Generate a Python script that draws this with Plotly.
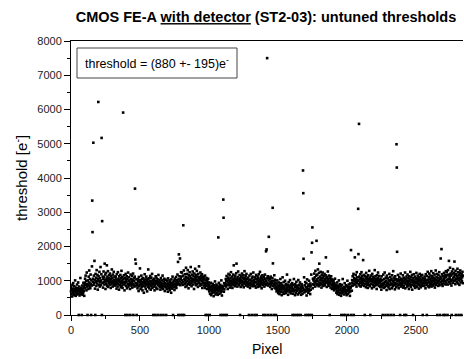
import plotly.graph_objects as go

# Threshold values (e-), one array per 160-pixel column,
# sampled every second pixel. 0 = dead / untunable pixel.
col00 = [690, 820, 610, 760, 540, 880, 700, 650, 930, 720,
         580, 770, 840, 620, 690, 1010, 740, 560, 680, 800,
         730, 600, 890, 660, 780, 710, 950, 620, 0, 750,
         830, 570, 700, 660, 1080, 740, 610, 790, 680, 0,
         720, 860, 590, 770, 650, 940, 700, 810, 560, 880,
         940, 1060, 780, 1150, 870, 990, 720, 1240, 900, 830,
         0, 1010, 880, 760, 1120, 950, 1300, 840, 920, 1050,
         780, 1180, 900, 0, 1010, 860, 1420, 3340, 2420, 970]
col01 = [1060, 5030, 880, 1150, 940, 1580, 1020, 770, 0, 1200,
         960, 1090, 850, 1310, 1000, 920, 1170, 740, 1050, 6220,
         1130, 880, 990, 1260, 830, 1080, 950, 1400, 1010, 870,
         1190, 5170, 0, 2740, 940, 1120, 800, 1050, 1270, 960,
         1100, 890, 1500, 1020, 1180, 760, 980, 1230, 910, 1060,
         1450, 850, 1120, 990, 1280, 820, 1040, 930, 1160, 1070,
         880, 1210, 960, 1010, 790, 1140, 1050, 900, 1330, 970,
         1090, 830, 1180, 1000, 940, 1260, 870, 1030, 1120, 920]
col02 = [980, 860, 1120, 910, 1040, 770, 1190, 950, 1010, 830,
         1250, 900, 1060, 980, 740, 1130, 1020, 880, 960, 1170,
         810, 1070, 930, 1290, 860, 1000, 1110, 790, 940, 5910,
         1050, 890, 1160, 970, 720, 1080, 920, 0, 1200, 850,
         1020, 960, 1130, 780, 1060, 0, 900, 1240, 830, 990,
         1100, 870, 1010, 940, 760, 0, 1180, 920, 1050, 860,
         970, 1140, 800, 1030, 910, 1210, 0, 880, 990, 1070,
         830, 1120, 3690, 1620, 940, 1500, 860, 1040, 0, 910]
col03 = [920, 780, 1050, 860, 990, 700, 1110, 840, 950, 1020,
         1360, 880, 760, 1000, 930, 1150, 810, 890, 1060, 720,
         970, 850, 1080, 940, 650, 1010, 900, 1190, 830, 960,
         1040, 760, 910, 1120, 870, 990, 690, 1050, 930, 820,
         1330, 960, 880, 1070, 780, 1000, 910, 1140, 850, 740,
         980, 1090, 860, 930, 1200, 790, 1020, 900, 0, 960,
         830, 1060, 910, 720, 1000, 870, 0, 1130, 940, 800,
         1080, 920, 990, 760, 1040, 0, 880, 1170, 950, 860]
col04 = [900, 1020, 820, 960, 740, 0, 1080, 870, 930, 790,
         1010, 850, 1150, 900, 760, 0, 980, 830, 1060, 910,
         700, 940, 870, 1030, 810, 0, 890, 760, 1000, 850,
         920, 680, 1070, 830, 940, 780, 880, 1010, 720, 860,
         970, 800, 900, 650, 1040, 840, 930, 770, 1120, 880,
         0, 950, 810, 1000, 870, 730, 1060, 900, 820, 980,
         860, 1110, 790, 940, 1020, 880, 1180, 960, 1550, 0,
         1040, 1770, 900, 1130, 980, 1650, 870, 0, 1060, 1250]
col05 = [1120, 930, 1240, 1010, 0, 880, 1150, 2620, 970, 1300,
         0, 1060, 900, 1190, 1020, 820, 1110, 1380, 950, 1070,
         860, 1200, 1000, 1310, 910, 1090, 780, 1160, 1040, 950,
         1250, 880, 1130, 1000, 1400, 920, 1080, 840, 1180, 1010,
         960, 1270, 1050, 890, 1140, 1020, 760, 1210, 980, 1100,
         1350, 930, 1060, 870, 1170, 1000, 1290, 900, 1120, 1030,
         820, 1200, 970, 1080, 1420, 940, 1110, 860, 1020, 1240,
         910, 1070, 1150, 880, 1000, 1190, 790, 1060, 940, 1110]
col06 = [980, 1120, 860, 1040, 930, 790, 1150, 900, 0, 1010,
         850, 1080, 940, 760, 1000, 0, 890, 1060, 820, 950,
         760, 690, 880, 0, 620, 810, 730, 940, 580, 790,
         700, 850, 640, 760, 910, 680, 820, 550, 740, 870,
         660, 790, 980, 710, 600, 830, 750, 890, 640, 770,
         720, 860, 590, 800, 2265, 690, 940, 760, 620, 820,
         740, 880, 0, 660, 790, 1010, 700, 570, 850, 760,
         0, 820, 3370, 2840, 680, 930, 750, 860, 0, 900]
col07 = [920, 1050, 830, 990, 1140, 0, 880, 1010, 760, 1090,
         950, 1200, 870, 1030, 910, 1160, 800, 980, 1070, 940,
         1250, 860, 1000, 920, 1120, 790, 1040, 960, 1180, 880,
         1450, 1010, 930, 1090, 840, 1150, 970, 1030, 900, 1220,
         1500, 950, 1060, 830, 1110, 990, 1270, 910, 1040, 870,
         1000, 1170, 940, 0, 1080, 820, 1020, 1130, 960, 890,
         1210, 1000, 870, 1090, 950, 1160, 810, 1050, 930, 1280,
         980, 1070, 900, 1140, 1020, 860, 1200, 950, 1060, 910]
col08 = [960, 830, 1090, 900, 1010, 0, 870, 1150, 940, 790,
         1030, 920, 1200, 860, 980, 0, 1070, 910, 1120, 840,
         990, 1240, 880, 1020, 930, 0, 1100, 850, 970, 1060,
         800, 1170, 950, 0, 1040, 890, 1130, 1000, 820, 1080,
         930, 1190, 870, 1010, 960, 1260, 840, 1050, 910, 1120,
         990, 780, 1080, 940, 1160, 870, 1020, 0, 900, 1110,
         960, 830, 1050, 1180, 920, 0, 1000, 1860, 880, 1915,
         1070, 7500, 940, 1130, 860, 0, 1010, 2283, 900, 1090]
col09 = [910, 1050, 820, 960, 1120, 0, 870, 1000, 760, 940,
         1080, 3130, 1507, 850, 990, 0, 910, 1160, 800, 1030,
         880, 950, 770, 0, 830, 690, 920, 780, 1010, 720,
         860, 640, 790, 950, 700, 840, 610, 890, 760, 1050,
         680, 810, 930, 740, 580, 870, 790, 1100, 660, 820,
         750, 960, 620, 850, 780, 700, 1000, 730, 860, 640,
         910, 770, 690, 1180, 800, 720, 880, 590, 830, 960,
         740, 850, 670, 790, 1020, 710, 860, 630, 780, 900]
col10 = [820, 700, 930, 0, 760, 620, 880, 740, 1050, 690,
         0, 810, 580, 900, 730, 840, 650, 970, 0, 780,
         710, 860, 600, 800, 1020, 0, 750, 640, 880, 720,
         950, 680, 820, 0, 590, 770, 900, 700, 840, 620,
         790, 4220, 3557, 1641, 740, 1100, 660, 870, 730, 960,
         0, 810, 690, 930, 570, 780, 1040, 720, 0, 850,
         650, 890, 760, 1000, 700, 0, 830, 610, 920, 740,
         860, 1180, 1828, 0, 2108, 2557, 780, 1060, 900, 1010]
col11 = [1050, 880, 1210, 960, 1100, 830, 1290, 1000, 920, 1150,
         2166, 1040, 870, 1180, 990, 1330, 910, 1070, 840, 1230,
         1500, 950, 1120, 880, 1020, 1260, 930, 1090, 800, 1170,
         1010, 890, 1240, 960, 1080, 850, 1140, 1000, 920, 1200,
         870, 1050, 990, 1160, 1682, 940, 1090, 820, 1110, 970,
         1030, 1270, 900, 1060, 850, 1150, 980, 920, 0, 1080,
         940, 800, 1020, 1130, 870, 990, 760, 1040, 900, 850,
         960, 780, 1010, 880, 720, 930, 820, 1060, 790, 870]
col12 = [760, 880, 650, 820, 700, 950, 610, 790, 860, 680,
         740, 1010, 590, 830, 720, 900, 640, 770, 850, 560,
         0, 710, 880, 630, 790, 1050, 680, 740, 0, 820,
         600, 760, 930, 690, 800, 0, 650, 870, 720, 580,
         840, 700, 1000, 620, 780, 0, 730, 890, 660, 810,
         750, 560, 920, 690, 800, 1895, 0, 850, 710, 1020,
         940, 1130, 860, 1010, 1200, 0, 900, 1080, 980, 1682,
         1050, 890, 1170, 960, 1040, 830, 1250, 930, 1100, 1010]
col13 = [1000, 3100, 1778, 900, 5580, 1120, 860, 1040, 970, 1190,
         830, 1080, 940, 1250, 1010, 880, 1130, 960, 1060, 1603,
         920, 1170, 850, 1020, 990, 0, 1140, 900, 1070, 810,
         1230, 950, 1040, 880, 1110, 1000, 790, 1160, 930, 1050,
         870, 1290, 980, 1090, 840, 0, 1020, 1150, 910, 1000,
         1060, 780, 1200, 950, 1030, 870, 1120, 990, 820, 1080,
         940, 1310, 1010, 860, 1130, 970, 900, 1050, 760, 1160,
         1000, 890, 1070, 1240, 930, 1010, 850, 1140, 960, 1030]
col14 = [950, 820, 1060, 880, 990, 740, 1130, 910, 830, 1020,
         0, 870, 1180, 940, 790, 1050, 900, 1240, 820, 970,
         0, 1090, 860, 1000, 730, 1150, 920, 850, 1070, 940,
         0, 810, 1010, 890, 1200, 760, 980, 1110, 870, 1030,
         0, 920, 1060, 780, 1160, 900, 1000, 840, 1280, 950,
         0, 1090, 870, 1020, 750, 1130, 940, 890, 1050, 810,
         4985, 4305, 1845, 1000, 920, 1170, 860, 1040, 780, 990,
         1110, 880, 1020, 0, 940, 1210, 830, 1060, 910, 1000]
col15 = [870, 1030, 940, 1160, 800, 980, 1090, 850, 0, 1010,
         920, 1240, 780, 1050, 960, 0, 1120, 890, 1000, 830,
         1180, 940, 860, 1070, 990, 760, 1130, 910, 1040, 870,
         1260, 950, 820, 1100, 1010, 880, 1170, 740, 1030, 960,
         0, 1080, 900, 1190, 840, 1000, 930, 1120, 790, 1050,
         970, 860, 1230, 940, 1070, 820, 1010, 1150, 890, 980,
         1040, 770, 1100, 920, 1200, 860, 990, 1060, 810, 1130,
         950, 1020, 880, 1170, 930, 0, 1080, 850, 1010, 940]
col16 = [990, 860, 1120, 930, 1050, 780, 1190, 950, 1010, 880,
         0, 1140, 920, 1260, 840, 1030, 970, 1100, 810, 1210,
         940, 1060, 870, 1150, 1000, 900, 1280, 830, 1070, 960,
         1130, 890, 1010, 1220, 860, 990, 1090, 920, 1180, 800,
         1040, 950, 1300, 880, 1020, 1110, 940, 1200, 0, 980,
         1070, 850, 1160, 1000, 920, 1250, 870, 1040, 0, 1120,
         1650, 960, 1080, 1924, 900, 1190, 1010, 850, 1140, 980,
         0, 1060, 1230, 920, 1100, 1000, 0, 1170, 890, 1280]
col17 = [1100, 950, 1250, 1020, 1160, 0, 890, 1310, 1040, 1180,
         1580, 970, 1120, 1060, 1380, 920, 1210, 1000, 1150, 860,
         0, 1270, 1030, 1190, 940, 1340, 1080, 990, 1230, 1110,
         1560, 1010, 1170, 900, 1290, 0, 1060, 1200, 970, 1130,
         1040, 1350, 920, 1090, 1250, 0, 1010, 1160, 880, 1220,
         1070, 1300, 950, 1130, 1040, 0, 1190, 990, 1100, 1260,
         930, 1150, 1020, 1240, 980, 1110, 1300, 1050, 1170, 900,
         1080, 1210, 1000, 1140, 1360, 960, 1090, 1230, 1040, 1170]

columns = [col00, col01, col02, col03, col04, col05, col06, col07, col08,
           col09, col10, col11, col12, col13, col14, col15, col16, col17]
PIXELS_PER_COLUMN = 160
SAMPLE_STEP = 2

x_tick_vals = [0, 500, 1000, 1500, 2000, 2500]
y_tick_vals = [0, 1000, 2000, 3000, 4000, 5000, 6000, 7000, 8000]

pixel = []
threshold = []
for ci, col in enumerate(columns):
    for k, v in enumerate(col):
        pixel.append(ci * PIXELS_PER_COLUMN + k * SAMPLE_STEP)
        threshold.append(v)

FONT = "Liberation Sans, Arial, sans-serif"

fig = go.Figure()
fig.add_trace(go.Scatter(
    x=pixel, y=threshold, mode="markers",
    marker=dict(symbol="square", size=2.6, color="black", line=dict(width=0)),
    cliponaxis=False, showlegend=False, hoverinfo="x+y",
))

fig.update_layout(
    width=464, height=359,
    margin=dict(l=71, r=1, t=41, b=44),
    paper_bgcolor="white", plot_bgcolor="white",
    font=dict(family=FONT, size=11, color="#222"),
    title=dict(
        text="<b>CMOS FE-A <u>with detector</u> (ST2-03): untuned thresholds</b>",
        font=dict(family=FONT, size=14.5, color="black"),
        x=266 / 464, xanchor="center", xref="container",
        y=1 - 17 / 359, yanchor="middle", yref="container",
    ),
    xaxis=dict(
        range=[0, 2842], tickvals=x_tick_vals, ticks="outside", ticklen=5,
        tickwidth=1, tickcolor="black", showline=True, linecolor="black",
        linewidth=1, mirror=True, showgrid=False, zeroline=False,
        tickfont=dict(size=11, color="#222"),
        minor=dict(dtick=250, ticks="outside", ticklen=3, tickcolor="black"),
    ),
    yaxis=dict(
        range=[0, 8000], tickvals=y_tick_vals, ticks="outside", ticklen=6,
        tickwidth=1, tickcolor="black", showline=True, linecolor="black",
        linewidth=1, mirror=False, showgrid=False, zeroline=False,
        tickfont=dict(size=11, color="#222"),
        minor=dict(dtick=500, ticks="outside", ticklen=3, tickcolor="black"),
    ),
    annotations=[
        dict(text="threshold [e<sup>-</sup>]", textangle=-90,
             xref="paper", yref="paper", x=(20 - 71) / 392, y=0.5,
             xanchor="center", yanchor="middle", showarrow=False,
             font=dict(family=FONT, size=15, color="black")),
        dict(text="Pixel", xref="paper", yref="paper",
             x=0.5, y=-(349 - 315) / 274, xanchor="center", yanchor="middle",
             showarrow=False, font=dict(family=FONT, size=14, color="black")),
        dict(text="threshold = (880 +- 195)e<sup>-</sup>",
             xref="paper", yref="paper", x=(83 - 71) / 392, y=(315 - 63) / 274,
             xanchor="left", yanchor="middle", showarrow=False,
             font=dict(family=FONT, size=12.5, color="black")),
    ],
    shapes=[
        dict(type="rect", xref="paper", yref="paper",
             x0=(77 - 71) / 392, x1=(237 - 71) / 392,
             y0=(315 - 78) / 274, y1=(315 - 48) / 274,
             line=dict(color="#444", width=1), fillcolor="rgba(0,0,0,0)"),
    ],
)

fig.write_html("out.html")
